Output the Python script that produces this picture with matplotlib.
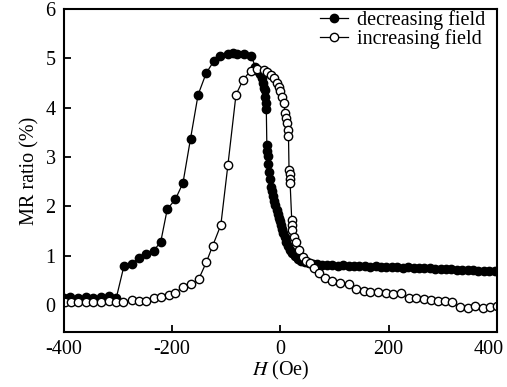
import matplotlib
matplotlib.use('Agg')
import matplotlib.pyplot as plt
import matplotlib.transforms as mtransforms

# decreasing field (filled circles), H in Oe, MR in %
h_dec = [-400, -388, -374, -360, -346, -332, -317, -303,
         -289, -275, -262, -248, -234, -221, -209, -194, -180, -166, -152,
         -137, -123, -111, -96, -88, -80, -68, -54,
         -46, -42, -38, -34, -32, -30, -28, -28, -27, -26,
         -25, -24, -23, -22, -21, -19, -17, -15, -13, -11, -9, -7, -5, -3, -1,
         1, 3, 5, 8, 11, 14, 18, 22, 27, 32, 38, 45, 52, 60, 68, 76,
         86, 96, 106, 116, 126, 136, 146, 156, 166, 176, 186, 196, 206, 216,
         226, 236, 246, 256, 266, 276, 286, 296, 306, 316, 326, 336, 346, 356,
         366, 376, 386, 396]
mr_dec = [0.15, 0.16, 0.14, 0.16, 0.14, 0.16, 0.18, 0.15,
          0.79, 0.83, 0.95, 1.03, 1.10, 1.28, 1.94, 2.14, 2.47, 3.37, 4.26,
          4.70, 4.94, 5.04, 5.09, 5.10, 5.09, 5.09, 5.05,
          4.82, 4.75, 4.68, 4.60, 4.50, 4.40, 4.36, 4.22, 4.10, 3.97,
          3.25, 3.12, 3.02, 2.85, 2.70, 2.55, 2.40, 2.30, 2.20, 2.10, 2.02, 1.93, 1.85, 1.77, 1.70,
          1.62, 1.54, 1.46, 1.38, 1.28, 1.20, 1.12, 1.06, 1.00, 0.94, 0.90, 0.87, 0.85, 0.83, 0.82, 0.81,
          0.80, 0.80, 0.79, 0.80, 0.79, 0.78, 0.79, 0.78, 0.77, 0.78, 0.77, 0.76, 0.77, 0.76,
          0.75, 0.76, 0.75, 0.74, 0.75, 0.74, 0.73, 0.73, 0.72, 0.72, 0.71, 0.71, 0.70, 0.70,
          0.69, 0.69, 0.68, 0.68]

# increasing field (open circles)
h_inc = [-398, -386, -374, -360, -346, -331, -317, -304, -290, -275, -262, -248,
         -234, -221, -206, -194, -180, -165, -151, -137, -125, -110, -97, -82,
         -69, -55, -43, -31, -24, -18, -12, -6, -3, 0, 3, 6, 9, 11, 12, 14, 15,
         16, 17, 17, 18, 21, 22, 22, 25, 28, 34, 41, 48, 55, 62, 71, 83, 95,
         111, 126, 140, 154, 166, 180, 195, 209, 223, 237, 250, 265, 279, 291,
         305, 318, 332, 347, 360, 374, 388, 400]
mr_inc = [0.05, 0.06, 0.05, 0.05, 0.05, 0.06, 0.07, 0.06, 0.05, 0.10, 0.08, 0.08,
          0.14, 0.17, 0.20, 0.25, 0.36, 0.42, 0.52, 0.86, 1.20, 1.62, 2.83, 4.26,
          4.56, 4.75, 4.78, 4.77, 4.72, 4.67, 4.60, 4.50, 4.42, 4.33, 4.22, 4.09, 3.89, 3.78, 3.69, 3.55, 3.43,
          2.74, 2.65, 2.55, 2.47, 1.72, 1.62, 1.52, 1.38, 1.28, 1.12, 0.98, 0.90, 0.85, 0.75, 0.64, 0.54, 0.49,
          0.45, 0.42, 0.32, 0.29, 0.27, 0.27, 0.25, 0.22, 0.24, 0.15, 0.14, 0.12, 0.10, 0.08,
          0.07, 0.05, -0.05, -0.07, -0.02, -0.07, -0.05, -0.03]

plt.rcParams['font.family'] = 'Liberation Serif'
plt.rcParams['font.size'] = 14.5
plt.rcParams['mathtext.fontset'] = 'stix'
plt.rcParams['axes.unicode_minus'] = False

fig = plt.figure(figsize=(5.07, 3.87), dpi=100)
ax = fig.add_axes([0.126, 0.142, 0.854, 0.835])

ax.plot(h_dec, mr_dec, '-o', color='black', lw=0.9, ms=6,
        mfc='black', mec='black', label='decreasing field')
ax.plot(h_inc, mr_inc, '-o', color='black', lw=0.9, ms=6, mew=1.0,
        mfc='white', mec='black', label='increasing field')

ax.set_xlim(-400, 400)
ax.set_ylim(-0.55, 6)
ax.set_xticks([-400, -200, 0, 200, 400])
ax.set_yticks([0, 1, 2, 3, 4, 5, 6])
ax.tick_params(direction='in', length=5, width=1.3, pad=6)
for s in ax.spines.values():
    s.set_linewidth(1.5)

# last x label sits a little left so it stays inside the picture
last = ax.get_xticklabels()[-1]
last.set_transform(last.get_transform() +
                   mtransforms.ScaledTranslation(-8 / 100, 0, fig.dpi_scale_trans))

ax.set_xlabel(r'$\it{H}$ (Oe)', labelpad=0)
ax.set_ylabel('MR ratio (%)', labelpad=4)

ax.legend(loc='upper right', bbox_to_anchor=(1.0, 1.035), frameon=False,
          handlelength=1.4, handletextpad=0.4, labelspacing=0.0,
          borderaxespad=0.2, fontsize=14.5)

fig.savefig('out.png', dpi=100)
